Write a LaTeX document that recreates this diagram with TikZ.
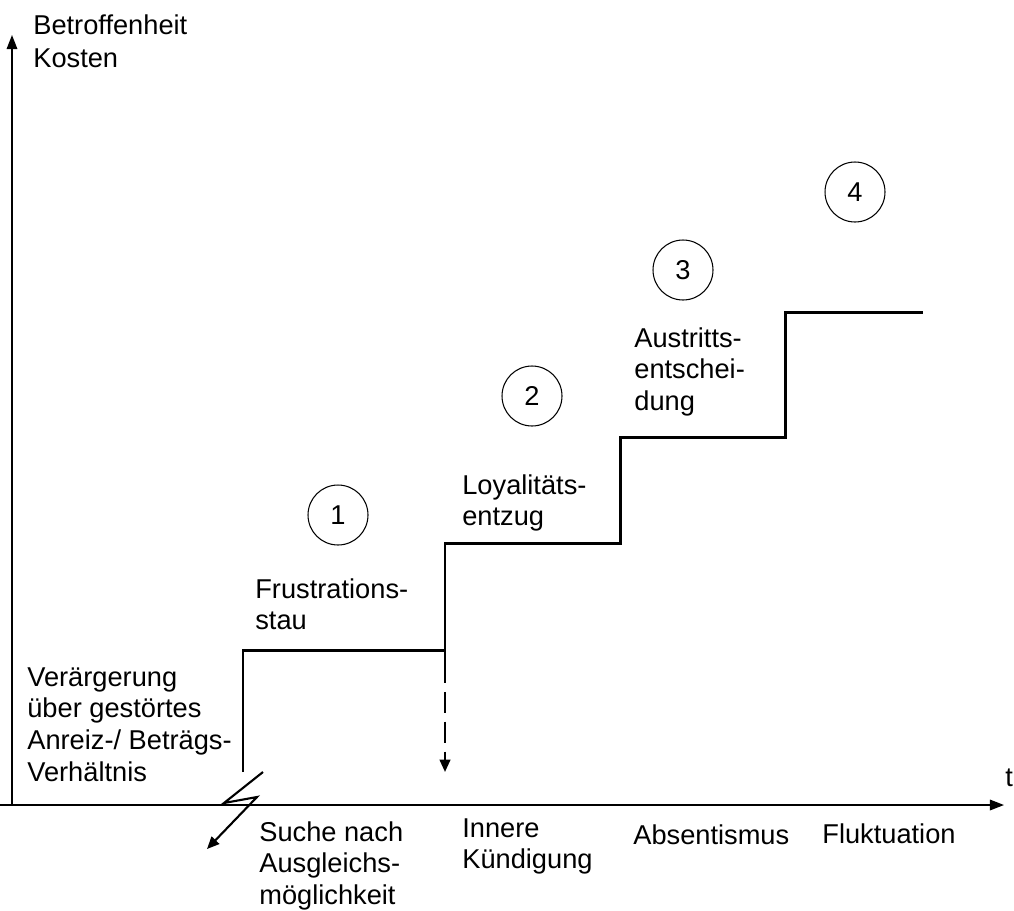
\documentclass[tikz,border=0pt]{standalone}
\usepackage{fontspec}
\setmainfont{Liberation Sans}
\usetikzlibrary{arrows.meta}
\begin{document}
\begin{tikzpicture}[x=0.02cm,y=-0.02cm,
  lbl/.style={anchor=north west,inner sep=0pt,align=left,font=\fontsize{15.5}{18.1}\selectfont},
  num/.style={draw,circle,line width=0.6pt,minimum size=1.2cm,inner sep=0pt,font=\fontsize{15.5}{18.1}\selectfont},
  axis/.style={line width=0.9pt,-{Triangle[length=8pt,width=6pt]}},
  stair/.style={line width=1.7pt,line join=miter},
  ]
\useasboundingbox (0,0) rectangle (1014,910);
% axes
\coordinate (o) at (12,805);
\coordinate (ytop) at (12,35);
\coordinate (x0) at (0,805);
\coordinate (xend) at (1004,805);
\draw[axis] (o) -- (ytop);
\draw[axis] (x0) -- (xend);
\node[anchor=west,inner sep=0pt,font=\fontsize{15.5}{18.1}\selectfont] (t) at (1005,778) {t};
% stair
\coordinate (s0) at (243,772);
\coordinate (s1) at (243,650);
\coordinate (s2) at (445,650);
\coordinate (s3) at (445,543);
\coordinate (s4) at (620,543);
\coordinate (s5) at (620,437);
\coordinate (s6) at (785,437);
\coordinate (s7) at (785,312);
\coordinate (s8) at (923,312);
\draw[stair] (s0) -- (s1) -- (s2) -- (s3) -- (s4) -- (s5) -- (s6) -- (s7) -- (s8);
\draw[line width=0.9pt] (s2) -- (445,662);
% dashed arrow
\coordinate (d0) at (445,662);
\coordinate (d1) at (445,772);
\draw[line width=1.3pt,dash pattern=on 12pt off 5pt,-{Triangle[length=7pt,width=6pt]}] (d0) -- (d1);
% lightning
\coordinate (l0) at (263,772);
\coordinate (l1) at (224,803);
\coordinate (l2) at (257,797);
\coordinate (l3) at (207,849);
\draw[line width=1.2pt,line join=miter,-{Triangle[length=7pt,width=6pt]}] (l0) -- (l1) -- (l2) -- (l3);
% circles
\node[num] (c1) at (338,515) {1};
\node[num] (c2) at (532,396) {2};
\node[num] (c3) at (683,270) {3};
\node[num] (c4) at (855,192) {4};
% labels
\node[lbl,font=\fontsize{15.5}{19.3}\selectfont] (ylab) at (33,14) {Betroffenheit\\Kosten};
\node[lbl] (frust) at (255,578) {Frustrations-\\stau};
\node[lbl] (loyal) at (462,474) {Loyalitäts-\\entzug};
\node[lbl] (austr) at (634,327) {Austritts-\\entschei-\\dung};
\node[lbl] (verae) at (27,667) {Verärgerung\\über gestörtes\\Anreiz-/ Beträgs-\\Verhältnis};
\node[lbl] (suche) at (259,821) {Suche nach\\Ausgleichs-\\möglichkeit};
\node[lbl] (innere) at (462,818) {Innere\\Kündigung};
\node[lbl] (absent) at (633,824) {Absentismus};
\node[lbl] (fluk) at (822,823) {Fluktuation};
\end{tikzpicture}
\end{document}
